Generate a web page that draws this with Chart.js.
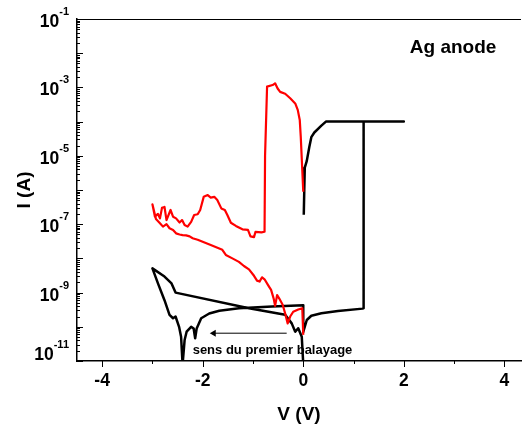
<!DOCTYPE html>
<html>
<head>
<meta charset="utf-8">
<script src="https://cdn.jsdelivr.net/npm/chart.js@4.4.0/dist/chart.umd.min.js"></script>
<style>
  html, body { margin: 0; padding: 0; background: #fff; }
  #wrap { width: 525px; height: 426px; }
</style>
</head>
<body>
<div id="wrap"><canvas id="chart" width="525" height="426"></canvas></div>
<script>
// I(V) - anode Ag, echelle log
// balayage rouge (etat ON -> reset -> retour)
var redV = [0.0, -0.05, -0.07, -0.11, -0.16, -0.26, -0.36, -0.46, -0.51, -0.56, -0.61, -0.72,
  -0.76, -0.77, -0.83, -0.95, -0.98, -1.05, -1.10, -1.21, -1.34, -1.44, -1.51, -1.56, -1.63,
  -1.71, -1.77, -1.84, -1.90, -1.98, -2.05, -2.10, -2.17, -2.23, -2.30, -2.36, -2.41, -2.46,
  -2.53, -2.59, -2.64, -2.72, -2.76, -2.81, -2.85, -2.89, -2.95, -3.0,
  -2.93, -2.85, -2.79, -2.72, -2.66, -2.59, -2.53, -2.46, -2.40, -2.33, -2.26, -2.20, -2.10,
  -1.84, -1.61, -1.54, -1.41, -1.28, -1.18, -1.08, -0.98, -0.92, -0.87, -0.82, -0.77, -0.70,
  -0.64, -0.59, -0.56, -0.52, -0.48, -0.41, -0.36, -0.31, -0.26, -0.20, -0.10, -0.02, 0.0];
var redI = [8.9e-7, 3.6e-5, 1.12e-4, 2.2e-4, 3.4e-4, 4.8e-4, 6.5e-4, 7.4e-4, 9.3e-4, 1.32e-3, 1.17e-3, 1.05e-3,
  1e-5, 6.0e-8, 5.8e-8, 6.0e-8, 4.2e-8, 4.4e-8, 6.8e-8, 7.1e-8, 8.9e-8, 1.1e-7, 1.86e-7, 2.6e-7, 2.9e-7,
  5.1e-7, 6.3e-7, 6.0e-7, 7.1e-7, 6.3e-7, 2.6e-7, 1.95e-7, 1.86e-7, 1.17e-7, 8.5e-8, 9.5e-8, 1.32e-7, 1.12e-7,
  1.48e-7, 1.66e-7, 2.6e-7, 1.32e-7, 3.2e-7, 3.0e-7, 1.48e-7, 2.0e-7, 1.66e-7, 3.8e-7,
  1.41e-7, 1.07e-7, 8.5e-8, 1.0e-7, 7.6e-8, 6.8e-8, 5.4e-8, 5.0e-8, 4.8e-8, 4.7e-8, 4.4e-8, 3.9e-8, 3.5e-8,
  2.45e-8, 1.78e-8, 1.26e-8, 1.0e-8, 7.9e-9, 6.0e-9, 4.8e-9, 3.1e-9, 2.24e-9, 2.1e-9, 2.8e-9, 2.45e-9, 1.66e-9,
  1.2e-9, 6.8e-10, 4.1e-10, 8.5e-10, 6.8e-10, 4.4e-10, 2.45e-10, 1.26e-10, 2.0e-10, 2.75e-10, 3.2e-10, 3.5e-10, 5.8e-11];

// premier balayage (noir)
var blackV = [0.0, -0.03, -0.10, -0.16, -0.23, -0.36, -1.08, -2.54, -2.62, -2.76, -3.0,
  -2.89, -2.76, -2.66, -2.59, -2.54, -2.47, -2.43, -2.40, -2.36, -2.32, -2.23, -2.18, -2.15, -2.12,
  -2.03, -1.87, -1.67, -1.28, -0.62, 0.0, 0.0, 0.07, 0.16, 0.36, 0.69, 1.18, 1.2, 1.2, 2.0,
  0.45, 0.36, 0.22, 0.16, 0.12, 0.07, 0.03, 0.02, 0.01];
var blackI = [8e-12, 5.1e-11, 9.1e-11, 7.2e-11, 1.26e-10, 2.24e-10, 3.5e-10, 1.0e-9, 1.86e-9, 2.95e-9, 5.1e-9,
  1.86e-9, 6.0e-10, 2.24e-10, 1.78e-10, 2.0e-10, 1.0e-10, 5.1e-11, 8e-12, 4.1e-11, 7.2e-11, 1.0e-10, 8.9e-11, 4.6e-11, 8.9e-11,
  1.78e-10, 2.45e-10, 2.95e-10, 3.5e-10, 3.9e-10, 4.3e-10, 7.1e-11, 1.58e-10, 2.1e-10, 2.5e-10, 2.9e-10, 3.4e-10, 3.5e-10, 1.0e-4, 1.0e-4,
  1.0e-4, 7.6e-5, 4.8e-5, 3.5e-5, 1.8e-5, 7.1e-6, 4.5e-6, 1.0e-6, 1.9e-7];

// fleche "sens du premier balayage"
var arrowV = [-0.33, -1.78];
var arrowI = [6.5e-11, 6.5e-11];

var xLabelled = [-4, -2, 0, 2, 4];
var yLabelExp = [-1, -3, -5, -7, -9, -11];

var titleText = 'Ag anode';
var titleAt = [2.98, 1e-2];
var sweepText = 'sens du premier balayage';
var sweepAt = [-2.2, 1.55e-11];

var fam = '"Liberation Sans", Arial, sans-serif';

function pts(vs, is) {
    return vs.map(function (v, k) { return { x: v, y: is[k] }; });
}

// graduations log : 1..9 x 10^n
var yTickVals = [];
for (var e = -11; e <= -1; e++) {
    for (var s = 1; s <= 9; s++) {
        if (e === -1 && s > 1) break;
        yTickVals.push(s * Math.pow(10, e));
    }
}

var decor = {
    id: 'decor',
    afterDraw: function (chart) {
        var ctx = chart.ctx, a = chart.chartArea;
        var xs = chart.scales.x, ys = chart.scales.y;
        ctx.save();
        ctx.strokeStyle = '#000';
        ctx.fillStyle = '#000';
        ctx.lineWidth = 1;
        // cadre haut
        ctx.beginPath();
        ctx.moveTo(a.left, a.top + 0.5);
        ctx.lineTo(a.right, a.top + 0.5);
        ctx.stroke();
        // ticks Y vers l'interieur
        ys.ticks.forEach(function (t) {
            var lg = Math.log10(t.value);
            var major = Math.abs(lg - Math.round(lg)) < 1e-6;
            var py = Math.round(ys.getPixelForValue(t.value)) + 0.5;
            ctx.beginPath();
            ctx.moveTo(a.left, py);
            ctx.lineTo(a.left + (major ? 6 : 3), py);
            ctx.stroke();
        });
        // ticks X vers l'exterieur
        xs.ticks.forEach(function (t) {
            var px = Math.round(xs.getPixelForValue(t.value)) + 0.5;
            var major = Math.round(t.value) % 2 === 0;
            ctx.beginPath();
            ctx.moveTo(px, a.bottom);
            ctx.lineTo(px, a.bottom + (major ? 6 : 3));
            ctx.stroke();
        });
        // etiquettes 10^n
        ctx.textBaseline = 'alphabetic';
        yLabelExp.forEach(function (n) {
            var py = ys.getPixelForValue(Math.pow(10, n));
            var base = Math.min(py + 8, a.bottom - 1);
            var right = 69;
            ctx.font = 'bold 11px ' + fam;
            var ew = ctx.measureText(String(n)).width;
            ctx.textAlign = 'left';
            ctx.fillText(String(n), right - ew, base - 12);
            ctx.font = 'bold 17.5px ' + fam;
            ctx.textAlign = 'right';
            ctx.fillText('10', right - ew, base);
        });
        // textes
        ctx.font = 'bold 19px ' + fam;
        ctx.textAlign = 'center';
        ctx.fillText(titleText, xs.getPixelForValue(titleAt[0]), ys.getPixelForValue(titleAt[1]));
        ctx.font = 'bold 13px ' + fam;
        ctx.textAlign = 'left';
        ctx.fillText(sweepText, xs.getPixelForValue(sweepAt[0]), ys.getPixelForValue(sweepAt[1]));
        ctx.restore();
    }
};

var ctx = document.getElementById('chart').getContext('2d');
const chart = new Chart(ctx, {
    type: 'scatter',
    data: {
        datasets: [{
            data: pts(redV, redI),
            borderColor: '#ff0000',
            borderWidth: 2.2,
            borderJoinStyle: 'round',
            showLine: true,
            pointRadius: 0
        }, {
            data: pts(blackV, blackI),
            borderColor: '#000000',
            borderWidth: 2.5,
            borderJoinStyle: 'round',
            showLine: true,
            pointRadius: 0
        }, {
            data: pts(arrowV, arrowI),
            borderColor: '#000000',
            backgroundColor: '#000000',
            borderWidth: 1,
            showLine: true,
            pointRadius: [0, 4],
            pointStyle: 'triangle',
            pointRotation: -90,
            pointBorderWidth: 0
        }]
    },
    options: {
        responsive: false,
        animation: false,
        devicePixelRatio: 1,
        layout: { padding: { top: 19, right: 0, bottom: 0, left: 0 } },
        plugins: { legend: { display: false }, tooltip: { enabled: false } },
        scales: {
            x: {
                type: 'linear',
                min: -4.5,
                max: 4.33,
                afterBuildTicks: function (s) {
                    s.ticks = [-4, -3, -2, -1, 0, 1, 2, 3, 4].map(function (v) { return { value: v }; });
                },
                afterFit: function (s) { s.height = 65; },
                grid: { display: false, drawTicks: false },
                border: { display: true, color: '#000', width: 1.5 },
                ticks: {
                    color: '#000',
                    padding: 10,
                    maxRotation: 0,
                    autoSkip: false,
                    font: { family: fam, size: 17.5, weight: 'bold' },
                    callback: function (v) {
                        return xLabelled.indexOf(Math.round(v)) >= 0 ? String(Math.round(v)) : '';
                    }
                },
                title: {
                    display: true,
                    text: 'V (V)',
                    color: '#000',
                    padding: 0,
                    font: { family: fam, size: 19, weight: 'bold' }
                }
            },
            y: {
                type: 'logarithmic',
                min: 1e-11,
                max: 1e-1,
                afterBuildTicks: function (s) {
                    s.ticks = yTickVals.map(function (v) { return { value: v }; });
                },
                afterFit: function (s) { s.width = 77; },
                grid: { display: false, drawTicks: false },
                border: { display: true, color: '#000', width: 1.5 },
                ticks: { display: false },
                title: {
                    display: true,
                    text: 'I (A)',
                    color: '#000',
                    padding: 13,
                    font: { family: fam, size: 19, weight: 'bold' }
                }
            }
        }
    },
    plugins: [decor]
});
</script>
</body>
</html>
